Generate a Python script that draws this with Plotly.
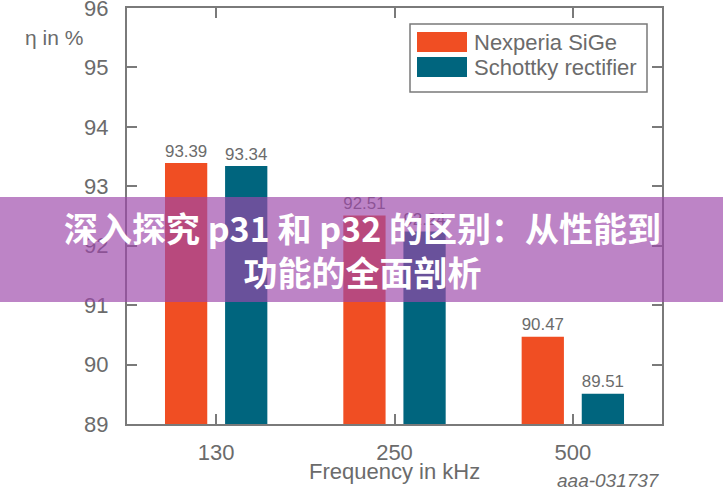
import plotly.graph_objects as go

# ---- data ----
frequencies = ["130", "250", "500"]
series_names = ["Nexperia SiGe", "Schottky rectifier"]
nexperia_sige = [93.39, 92.51, 90.47]
schottky_rectifier = [93.34, 92.24, 89.51]
y_ticks = [89, 90, 91, 92, 93, 94, 95, 96]

colors = ["#F04E23", "#00657E"]
gray = "#6b6b6b"
axis_gray = "#7a7a7a"

W, H = 723, 500
# plot area in page pixels
L, R, T, B = 127, 662, 8, 424


def px(x):
    return (x - L) / (R - L)


def py(y):
    return (B - y) / (B - T)


fig = go.Figure()
for name, vals, col, off in [
    (series_names[0], nexperia_sige, colors[0], -0.287),
    (series_names[1], schottky_rectifier, colors[1], 0.05),
]:
    fig.add_trace(go.Bar(
        x=frequencies, y=vals, name=name,
        marker=dict(color=col, line=dict(width=0)),
        width=0.237, offset=off,
        text=[f"{v:.2f}" for v in vals], textposition="outside",
        textfont=dict(family="Liberation Sans, Arial", size=20, color=gray),
        cliponaxis=False, showlegend=False,
    ))

shapes = []
annotations = []

# legend box (custom, to match large swatches)
shapes.append(dict(type="rect", xref="paper", yref="paper",
                   x0=px(410), x1=px(647), y0=py(92), y1=py(24),
                   line=dict(color=axis_gray, width=1.5), fillcolor="white", layer="above"))
for i, (name, col) in enumerate(zip(series_names, colors)):
    top = 32 + i * 25
    shapes.append(dict(type="rect", xref="paper", yref="paper",
                       x0=px(417), x1=px(467), y0=py(top + 20), y1=py(top),
                       line=dict(width=0), fillcolor=col, layer="above"))
    annotations.append(dict(xref="paper", yref="paper", x=px(472), y=py(top + 10),
                            text=name, showarrow=False, xanchor="left", yanchor="middle",
                            font=dict(family="Liberation Sans, Arial", size=22, color=gray)))

# axis titles
annotations.append(dict(xref="paper", yref="paper", x=px(54), y=py(38), text="η in %",
                        showarrow=False, xanchor="center", yanchor="middle",
                        font=dict(family="Liberation Sans, Arial", size=21, color=gray)))
annotations.append(dict(xref="paper", yref="paper", x=px(394), y=py(471), text="Frequency in kHz",
                        showarrow=False, xanchor="center", yanchor="middle",
                        font=dict(family="Liberation Sans, Arial", size=22, color=gray)))
annotations.append(dict(xref="paper", yref="paper", x=px(662), y=py(480), text="<i>aaa-031737</i>",
                        showarrow=False, xanchor="right", yanchor="middle",
                        font=dict(family="Liberation Sans, Arial", size=19, color=gray)))

# banner overlay
shapes.append(dict(type="rect", xref="paper", yref="paper",
                   x0=px(0), x1=px(723), y0=py(302), y1=py(197),
                   line=dict(width=0), fillcolor="rgba(156,72,170,0.67)", layer="above"))
annotations.append(dict(xref="paper", yref="paper", x=px(362), y=py(250),
                        text="<b>深入探究 p31 和 p32 的区别：从性能到<br>功能的全面剖析</b>",
                        showarrow=False, xanchor="center", yanchor="middle", align="center",
                        font=dict(family="Noto Sans CJK SC", size=34, color="white")))

fig.update_layout(
    width=W, height=H,
    margin=dict(l=L, r=W - R, t=T, b=H - B, pad=0, autoexpand=False),
    paper_bgcolor="white", plot_bgcolor="white",
    barmode="overlay",
    shapes=shapes, annotations=annotations,
    xaxis=dict(range=[-0.5, 2.5], type="category", showline=True, linecolor=axis_gray, linewidth=2,
               mirror="ticks", ticks="inside", ticklen=10, tickwidth=1.5, tickcolor=axis_gray,
               showgrid=False, zeroline=False, automargin=False, ticklabeloverflow="allow",
               tickfont=dict(family="Liberation Sans, Arial", size=22, color=gray)),
    yaxis=dict(range=[89, 96], tickvals=y_ticks, showline=True, linecolor=axis_gray, linewidth=2,
               mirror="ticks", ticks="inside", ticklen=10, tickwidth=1.5, tickcolor=axis_gray,
               showgrid=False, zeroline=False, automargin=False, ticklabeloverflow="allow",
               tickfont=dict(family="Liberation Sans, Arial", size=22, color=gray)),
)
fig.update_xaxes(ticklabelstandoff=8)
fig.update_yaxes(ticklabelstandoff=12)

# remove the browser's default 8px body margin so the figure fills the window
fig.write_html("out.html", config={"displayModeBar": False},
               post_script="document.body.style.margin='0';")
